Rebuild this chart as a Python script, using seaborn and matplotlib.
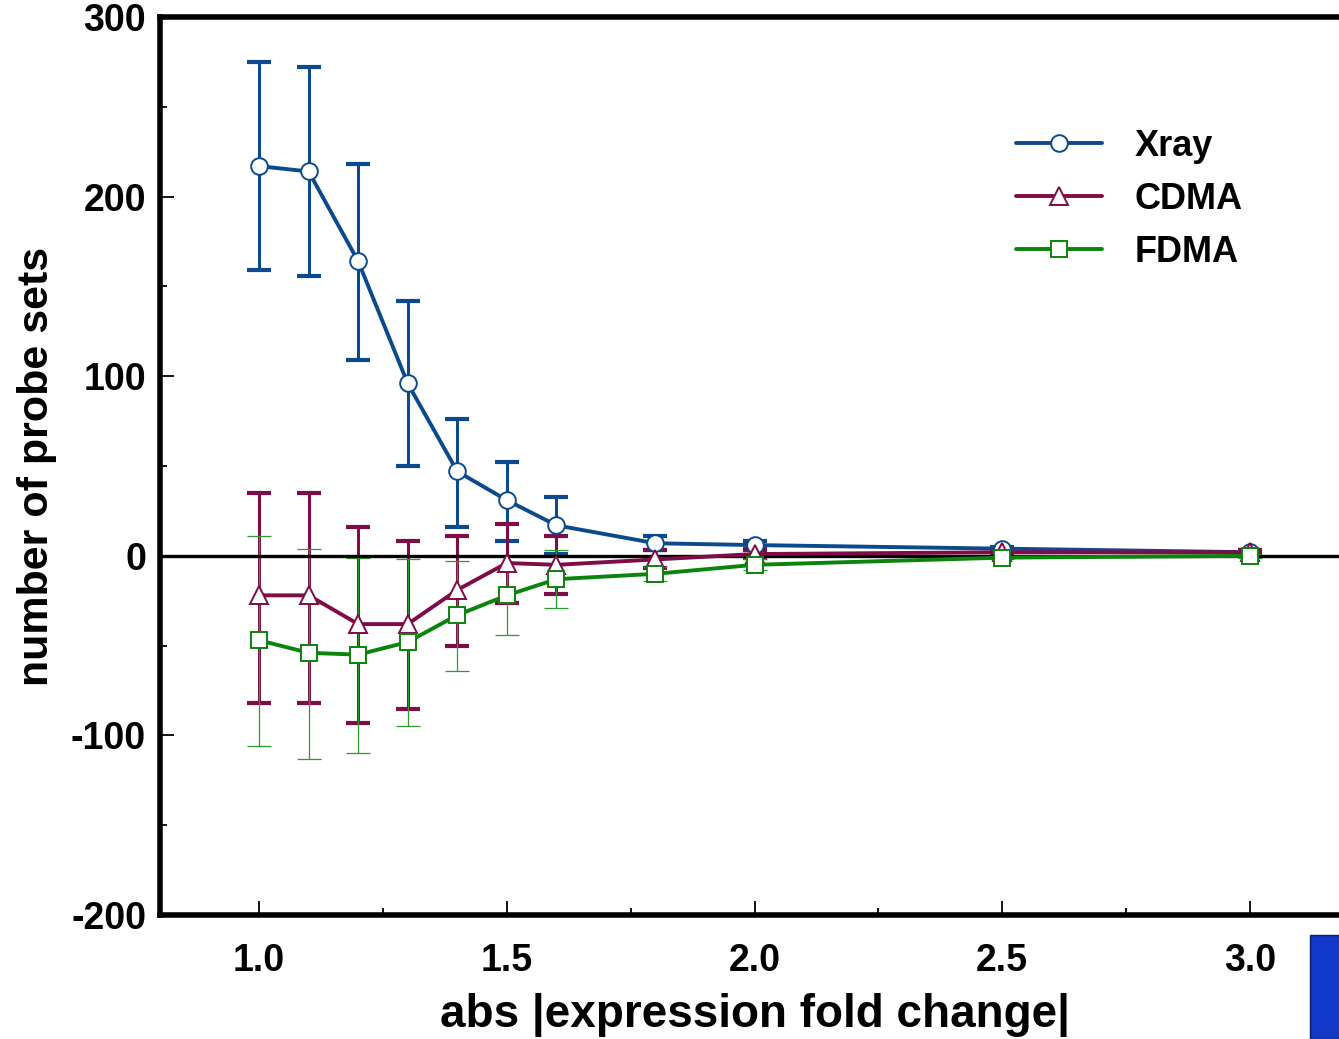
import numpy as np
import pandas as pd
import matplotlib
matplotlib.use("Agg")
import matplotlib.pyplot as plt
import seaborn as sns
from matplotlib.patches import Rectangle
from matplotlib.ticker import MultipleLocator

# ------------------------------------------------------------
# data
# ------------------------------------------------------------
fold = [1.0, 1.1, 1.2, 1.3, 1.4, 1.5, 1.6, 1.8, 2.0, 2.5, 3.0]

xray = [217, 214, 164, 96, 47, 31, 17, 7, 6, 4, 2]
xray_lo = [159, 156, 109, 50, 16, 8, 1, 3, 4, 3, 1]
xray_hi = [275, 272, 218, 142, 76, 52, 33, 11, 8, 5, 3]

cdma = [-22, -22, -38, -38, -19, -4, -5, -2, 1, 2, 2]
cdma_lo = [-82, -82, -93, -85, -50, -26, -21, -7, -1, 1, 1]
cdma_hi = [35, 35, 16, 8, 11, 18, 11, 3, 3, 3, 3]

fdma = [-47, -54, -55, -48, -33, -22, -13, -10, -5, -1, 0]
fdma_lo = [-106, -113, -110, -95, -64, -44, -29, -14, -8, -2, -1]
fdma_hi = [11, 4, -1, -2, -3, 0, 3, -6, -2, 0, 1]

series_names = ["Xray", "CDMA", "FDMA"]
series_colors = ["#0B4A8C", "#7F0B47", "#0A840A"]
series_markers = ["o", "^", "s"]

# ------------------------------------------------------------
# figure
# ------------------------------------------------------------
sns.set_style("white")
plt.rcParams["font.family"] = ["Liberation Sans", "DejaVu Sans"]
plt.rcParams["font.weight"] = "bold"
plt.rcParams["text.color"] = "black"
plt.rcParams["axes.labelcolor"] = "black"
plt.rcParams["xtick.color"] = "black"
plt.rcParams["ytick.color"] = "black"

fig = plt.figure(figsize=(13.39, 10.39), dpi=100)
ax = fig.add_axes([0.1195, 0.1193, 0.888, 0.8643])

vals = [xray, cdma, fdma]
los = [xray_lo, cdma_lo, fdma_lo]
his = [xray_hi, cdma_hi, fdma_hi]
err_lw = [2.2, 2.2, 0.9]
cap_lw = [3.0, 3.0, 0.9]
err_col = ["#0B4A8C", "#7F0B47", "#2E9A2E"]

for name, v, lo, hi, col, elw, clw in zip(series_names, vals, los, his, err_col, err_lw, cap_lw):
    v = np.array(v)
    yerr = np.vstack([v - np.array(lo), np.array(hi) - v])
    ax.errorbar(fold, v, yerr=yerr, fmt="none", ecolor=col, elinewidth=elw,
                capsize=8.5, capthick=clw, zorder=2)

ax.axhline(0, color="black", lw=2.4, zorder=3)

for name, v, col, mk in zip(series_names, vals, series_colors, series_markers):
    df = pd.DataFrame({"fold": fold, "n": v})
    sns.lineplot(data=df, x="fold", y="n", ax=ax, color=col, lw=2.8,
                 marker=mk, markersize=12 if mk != "^" else 13,
                 markerfacecolor="white", markeredgecolor=col,
                 markeredgewidth=1.4, label=name, zorder=4)

ax.set_xlim(0.8, 3.2)
ax.set_ylim(-200, 300)
ax.xaxis.set_major_locator(MultipleLocator(0.5))
ax.xaxis.set_minor_locator(MultipleLocator(0.25))
ax.yaxis.set_major_locator(MultipleLocator(100))
ax.yaxis.set_minor_locator(MultipleLocator(50))

ax.tick_params(axis="both", which="major", direction="in", length=10,
               width=1.3, color="black")
ax.tick_params(axis="both", which="minor", direction="in", length=5,
               width=1.3, color="black")
ax.tick_params(top=False, right=False, which="both")
ax.tick_params(axis="x", which="major", labelsize=27, pad=20)
ax.tick_params(axis="y", which="major", labelsize=27, pad=10)
ax.xaxis.set_ticks_position("bottom")
ax.yaxis.set_ticks_position("left")

ax.set_xticklabels([f"{t:.1f}" for t in ax.get_xticks()], fontweight="bold")
ax.set_yticklabels([f"{t:.0f}" for t in ax.get_yticks()], fontweight="bold")

for side in ["left", "bottom", "top", "right"]:
    ax.spines[side].set_linewidth(4)
    ax.spines[side].set_color("black")

ax.set_xlabel("abs |expression fold change|", fontsize=33, fontweight="bold",
              labelpad=10)
ax.set_ylabel("number of probe sets", fontsize=31, fontweight="bold",
              labelpad=10)

leg = ax.legend(loc="upper right", bbox_to_anchor=(0.938, 0.912), frameon=False,
                fontsize=26, handlelength=2.4, handletextpad=0.9,
                labelspacing=0.5)
for t in leg.get_texts():
    t.set_fontweight("bold")

# corner of a slide logo at bottom right
fig.patches.append(Rectangle((0.978, 0.0), 0.03, 0.1, transform=fig.transFigure,
                             facecolor="#1238C8", edgecolor="#0A1E70", lw=1))

fig.savefig("out.png", dpi=100)
